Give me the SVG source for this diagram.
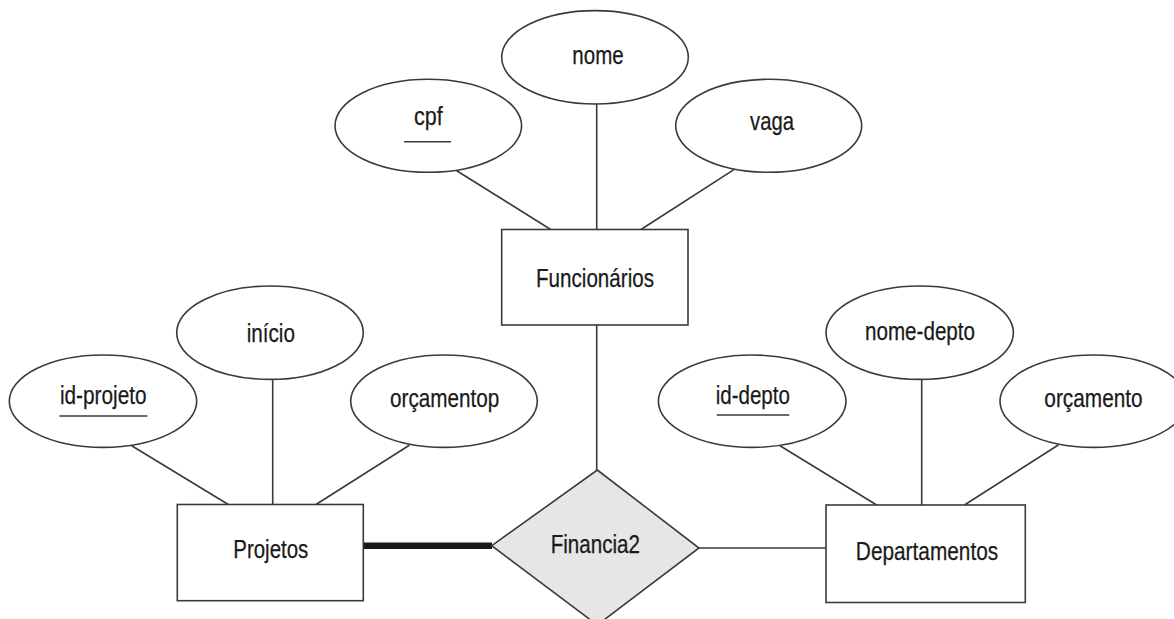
<svg xmlns="http://www.w3.org/2000/svg" width="1174" height="619" viewBox="0 0 1174 619">
<style>
.shape{fill:#fff;stroke:#3a3a3a;stroke-width:1.6}
.rel{fill:#e6e6e6;stroke:#3a3a3a;stroke-width:1.6}
.ln{stroke:#3a3a3a;stroke-width:1.6;fill:none}
.thick{stroke:#1a1a1a;stroke-width:6.5;fill:none}
.ul{stroke:#3a3a3a;stroke-width:1.6}
text{font-family:"Liberation Sans",Arial,sans-serif;font-size:26px;fill:#1a1a1a;stroke:#1a1a1a;stroke-width:0.25;text-anchor:middle}
</style>
<rect width="1174" height="619" fill="#fff"/>
<g id="connectors">
<line class="ln" x1="456.7" y1="170.7" x2="550.7" y2="229.5"/>
<line class="ln" x1="596.7" y1="104" x2="596.7" y2="229.5"/>
<line class="ln" x1="734.3" y1="169.3" x2="641" y2="229.5"/>
<line class="ln" x1="596.7" y1="325" x2="596.7" y2="470"/>
<line class="ln" x1="131.7" y1="445.7" x2="228.3" y2="504.5"/>
<line class="ln" x1="272.7" y1="379.3" x2="272.7" y2="504.5"/>
<line class="ln" x1="409.3" y1="445.3" x2="316" y2="504.5"/>
<line class="ln" x1="780" y1="445.7" x2="876.7" y2="505"/>
<line class="ln" x1="921.7" y1="379.3" x2="921.7" y2="505"/>
<line class="ln" x1="1058.3" y1="445" x2="964.5" y2="505"/>
<line class="thick" x1="363.3" y1="545.7" x2="492" y2="545.7"/>
<line class="ln" x1="699" y1="548" x2="826" y2="548"/>
</g>
<g id="nome">
<ellipse class="shape" cx="595" cy="57.3" rx="93.3" ry="46.7"/>
<text x="598" y="64" textLength="51.3" lengthAdjust="spacingAndGlyphs">nome</text>
</g>
<g id="cpf">
<ellipse class="shape" cx="428.3" cy="125.8" rx="93.3" ry="46.5"/>
<text x="428.3" y="125" textLength="28.7" lengthAdjust="spacingAndGlyphs">cpf</text>
<line class="ul" x1="404" y1="141.7" x2="451" y2="141.7"/>
</g>
<g id="vaga">
<ellipse class="shape" cx="768.7" cy="125.8" rx="93" ry="46.5"/>
<text x="772" y="130" textLength="44" lengthAdjust="spacingAndGlyphs">vaga</text>
</g>
<g id="funcionarios">
<rect class="shape" x="501.7" y="229.5" width="186.3" height="95.5"/>
<text x="595" y="287" textLength="118" lengthAdjust="spacingAndGlyphs">Funcionários</text>
</g>
<g id="inicio">
<ellipse class="shape" cx="270" cy="332.7" rx="93.3" ry="46.7"/>
<text x="270.8" y="341.7" textLength="48.3" lengthAdjust="spacingAndGlyphs">início</text>
</g>
<g id="id-projeto">
<ellipse class="shape" cx="103" cy="401.2" rx="93.7" ry="46.2"/>
<text x="103.3" y="404" textLength="86.7" lengthAdjust="spacingAndGlyphs">id-projeto</text>
<line class="ul" x1="59.3" y1="416" x2="147.3" y2="416"/>
</g>
<g id="orcamentop">
<ellipse class="shape" cx="444" cy="401.2" rx="93.3" ry="46.2"/>
<text x="444.7" y="406.7" textLength="109.3" lengthAdjust="spacingAndGlyphs">orçamentop</text>
</g>
<g id="projetos">
<rect class="shape" x="177.3" y="504.5" width="186" height="96.2"/>
<text x="270.8" y="558.3" textLength="75" lengthAdjust="spacingAndGlyphs">Projetos</text>
</g>
<g id="financia2">
<polygon class="rel" points="597.3,470 699,548 597.3,625 491.7,545.7"/>
<text x="595.3" y="553.3" textLength="89.3" lengthAdjust="spacingAndGlyphs">Financia2</text>
</g>
<g id="nome-depto">
<ellipse class="shape" cx="919.7" cy="332.7" rx="93.7" ry="46.7"/>
<text x="920" y="340" textLength="110" lengthAdjust="spacingAndGlyphs">nome-depto</text>
</g>
<g id="id-depto">
<ellipse class="shape" cx="752.2" cy="401.2" rx="93.8" ry="46.2"/>
<text x="752.8" y="404" textLength="74.3" lengthAdjust="spacingAndGlyphs">id-depto</text>
<line class="ul" x1="716.7" y1="415" x2="789.3" y2="415"/>
</g>
<g id="orcamento">
<ellipse class="shape" cx="1093.5" cy="401.2" rx="93.5" ry="46.2"/>
<text x="1093.5" y="406.7" textLength="98.3" lengthAdjust="spacingAndGlyphs">orçamento</text>
</g>
<g id="departamentos">
<rect class="shape" x="826" y="505" width="199.3" height="97.5"/>
<text x="927" y="560" textLength="142.3" lengthAdjust="spacingAndGlyphs">Departamentos</text>
</g>
</svg>
